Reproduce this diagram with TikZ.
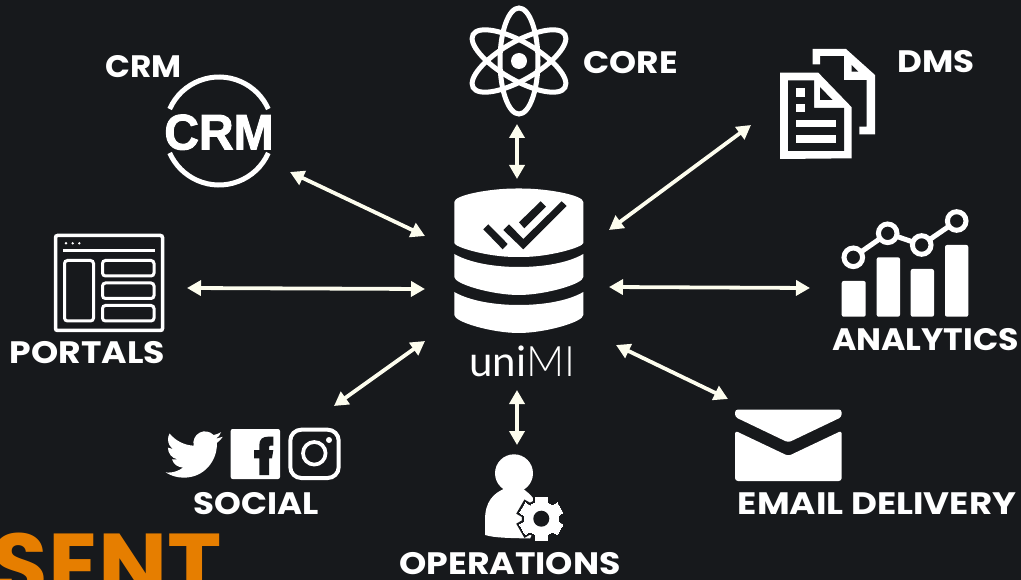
\documentclass[tikz,border=0pt]{standalone}
\usepackage{fontspec}
\setmainfont{Poppins}
\newfontfamily\crmfont{Liberation Sans Bold}[FakeBold=2]
\newfontfamily\unifont{Lato}
\newfontfamily\thinfont{Lato Light}
\usetikzlibrary{arrows.meta}
\definecolor{bgdark}{HTML}{17191C}
\definecolor{cream}{HTML}{FDFDEE}
\definecolor{sentorange}{HTML}{E67E00}
\tikzset{
  hubarrow/.style={draw=cream,line width=3.8pt,{Triangle[length=14pt,width=15pt]}-{Triangle[length=14pt,width=15pt]}},
  iconfill/.style={fill=white,draw=none},
  iconline/.style={draw=white,fill=none},
  cutfill/.style={fill=bgdark,draw=none},
  caption/.style={text=white,inner sep=0pt,anchor=base,font=\bfseries\fontsize{31}{31}\selectfont},
  wide/.style={xscale=#1,transform shape}
}
\begin{document}
\begin{tikzpicture}[x=1pt,y=-1pt]
\useasboundingbox (0,0) rectangle (1021,580);
\fill[bgdark] (0,0) rectangle (1021,580);

\node[caption,text=sentorange,anchor=base east,font=\bfseries\fontsize{92}{92}\selectfont] (sent) at (222,598) {SENT};

\filldraw[iconfill,rounded corners=3pt] (454.3,205) .. controls (454.3,195) and (490,188.5) .. (518.8,188.5) .. controls (547,188.5) and (583.3,195) .. (583.3,205) -- (583.3,240) .. controls (583.3,247) and (550,257) .. (518.8,257) .. controls (487,257) and (454.3,247) .. (454.3,240) -- cycle;
\foreach \y in {254,292} {
  \filldraw[iconfill] (454.3,\y) .. controls (470,\y+9) and (495,\y+13) .. (518.8,\y+13) .. controls (543,\y+13) and (568,\y+9) .. (583.3,\y) -- (583.3,\y+23) .. controls (583.3,\y+30) and (545,\y+41) .. (518.8,\y+41) .. controls (492,\y+41) and (454.3,\y+30) .. (454.3,\y+23) -- cycle;
}
\fill[cutfill] (483.3,229.3) -- (488.3,224.3) -- (507.7,244) -- (502.7,249.3) -- cycle;
\fill[cutfill] (503.3,230) -- (509,224.3) -- (523.3,239) -- (561.7,201.3) -- (566.7,206) -- (523.3,249.3) -- cycle;
\fill[cutfill] (519,222.3) -- (540.7,201.3) -- (546,206.7) -- (524.3,228.3) -- cycle;
\node[text=white,inner sep=0pt,anchor=base,font=\fontsize{42}{42}\selectfont] (unimi) at (522.5,376) {\unifont uni\thinfont MI};

\draw[iconline,line width=5pt] (519,61) ellipse[x radius=19,y radius=53];
\draw[iconline,line width=5pt,rotate around={60:(519,61)}] (519,61) ellipse[x radius=19,y radius=53];
\draw[iconline,line width=5pt,rotate around={120:(519,61)}] (519,61) ellipse[x radius=19,y radius=53];
\fill[iconfill] (519,61) circle[radius=8];
\node[caption,anchor=base,wide=1.11] (core) at (630.5,74) {CORE};

\draw[iconline,line width=5pt] (219,131) ++(24:54) arc[start angle=24,end angle=156,radius=54];
\draw[iconline,line width=5pt] (219,131) ++(204:54) arc[start angle=204,end angle=336,radius=54];
\node[text=white,inner sep=0pt,anchor=base,font=\crmfont\fontsize{50}{50}\selectfont,wide=0.96] (crmlogo) at (219,149.5) {CRM};
\node[caption,wide=1.055] (crm) at (143.5,78) {CRM};

\draw[iconline,line width=3.5pt,rounded corners=2pt] (55.5,330.5) -- (55.5,235.5) -- (162.5,235.5) -- (162.5,330.5) -- cycle;
\foreach \x in {66,72.7,79.3} {
  \fill[iconfill] (\x,243.3) circle[radius=1.3];
}
\draw[iconline,line width=3pt] (63.3,251) -- (155,251);
\draw[iconline,line width=3pt,rounded corners=3pt] (64.5,260.5) rectangle (93.5,321);
\draw[iconline,line width=3pt,rounded corners=3pt] (102.5,260.5) rectangle (154,276);
\draw[iconline,line width=3pt,rounded corners=3pt] (102.5,283) rectangle (154,298.5);
\draw[iconline,line width=3pt,rounded corners=3pt] (102.5,305.5) rectangle (154,321);
\node[caption,wide=1.117] (portals) at (87.5,363) {PORTALS};

\fill[iconfill] (812.7,64.3) -- (812.7,49) -- (846,49) -- (875,75) -- (875,134.3) -- (859.3,134.3) -- (859.3,126.7) -- (866.7,126.7) -- (866.7,80) -- (844,80) -- (844,56) -- (820,56) -- (820,64.3) -- cycle;
\fill[cutfill] (851.7,65) -- (858.3,71.7) -- (851.7,71.7) -- cycle;
\fill[iconfill] (780,72.7) -- (818.3,72.7) -- (851.7,107.3) -- (851.7,158.3) -- (780,159) -- cycle;
\fill[cutfill] (788,80.5) -- (814,80.5) -- (814,108) -- (844,108) -- (844,151) -- (788,151) -- cycle;
\fill[cutfill] (820,87) -- (820,100) -- (832.5,100) -- cycle;
\fill[iconfill] (796,88.3) rectangle (805,96.7);
\fill[iconfill] (796,104) rectangle (805,111.7);
\fill[iconfill] (796,120) rectangle (836,127.3);
\fill[iconfill] (796,135) rectangle (836,143.3);
\node[caption,wide=1.1] (dms) at (936,72.5) {DMS};

\fill[iconfill,rounded corners=2pt] (841.7,281) rectangle (865.7,316.7);
\fill[iconfill,rounded corners=2pt] (876.7,257.3) rectangle (900,316.7);
\fill[iconfill,rounded corners=2pt] (910.7,269) rectangle (934,316.7);
\fill[iconfill,rounded corners=2pt] (945,245) rectangle (968.3,316.7);
\draw[iconline,line width=5pt] (853.3,257.3) -- (887.7,233.3) -- (921.7,245) -- (956.7,221);
\foreach \cx/\cy in {853.3/257.3,887.7/233.3,921.7/245,956.7/221} {
  \filldraw[draw=white,fill=bgdark,line width=5pt] (\cx,\cy) circle[radius=9.3];
}
\node[caption,wide=1.07] (analytics) at (925.5,350.5) {ANALYTICS};

\fill[iconfill,rounded corners=3pt] (735,409.5) -- (841.7,409.5) -- (841.7,417) -- (788.3,442.5) -- (735,417) -- cycle;
\fill[iconfill,rounded corners=3pt] (735,430.7) -- (788.3,456) -- (841.7,430.7) -- (841.7,481) -- (735,481) -- cycle;
\node[caption,wide=1.15] (email) at (877,514.5) {EMAIL DELIVERY};

\begin{scope}[shift={(165.7,426)},x=2.375pt,y=-2.375pt]
\fill[iconfill] (23.953,4.57) -- (21.128,5.345) .. controls (22.2,4.7) and (22.9,3.7) .. (23.291,2.622) .. controls (22.34,3.177) and (21.286,3.581) .. (20.164,3.806) .. controls (18.64,2.19) and (16.21,1.78) .. (14.25,2.83) .. controls (12.29,3.88) and (11.28,6.13) .. (11.78,8.288) .. controls (7.69,8.095) and (4.067,6.13) .. (1.64,3.162) .. controls (1.2,3.9) and (.974,4.75) .. (.974,5.637) .. controls (.974,7.347) and (1.844,8.85) .. (3.162,9.733) -- (.934,9.117) -- (.934,9.177) .. controls (.934,11.5) and (2.6,13.55) .. (4.88,14.004) -- (2.668,14.089) .. controls (3.35,16.1) and (5.15,17.45) .. (7.272,17.506) .. controls (5.6,18.8) and (3.45,19.611) .. (1.17,19.611) .. controls (.78,19.611) and (.391,19.588) .. (0,19.544) .. controls (2.2,20.95) and (4.8,21.753) .. (7.557,21.753) .. controls (16.61,21.753) and (21.555,14.257) .. (21.555,7.768) -- (21.54,7.138) .. controls (22.5,6.45) and (23.35,5.55) .. (24,4.59) -- cycle;
\end{scope}
\fill[iconfill,rounded corners=2pt] (230.7,429) rectangle (280,479);
\fill[cutfill] (259.3,475) -- (259.3,458.3) -- (254,458.3) -- (254,450) -- (259.3,450) -- (259.3,445) .. controls (259.3,439) and (263,436.7) .. (268,436.7) -- (273.3,436.7) -- (273.3,445.5) -- (271,445.5) .. controls (269.5,445.5) and (269,446) .. (269,448) -- (269,450) -- (273.3,450) -- (272,458.3) -- (269,458.3) -- (269,475) -- cycle;
\draw[iconline,line width=4pt,rounded corners=11pt] (290.3,429.7) rectangle (338.7,478);
\draw[iconline,line width=3.7pt] (314.3,453.3) circle[radius=11.3];
\fill[iconfill] (329,440) circle[radius=3];
\node[caption,wide=1.1] (social) at (256,514.5) {SOCIAL};

\fill[iconfill] (514,473.3) circle[radius=19];
\fill[iconfill] (506,488) .. controls (493,493) and (485,502) .. (485,520) -- (485,535) .. controls (495,538) and (510,538) .. (530,538.5) -- (545,510) -- (533,498) .. controls (530,494) and (526,491) .. (522,488) -- cycle;
\foreach \gearcol/\gearw in {bgdark/5pt,white/0pt} {
  \filldraw[draw=\gearcol,fill=\gearcol,line width=\gearw] (541.3,518.7) circle[radius=17];
  \foreach \a in {30,90,150} {
    \filldraw[draw=\gearcol,fill=\gearcol,line width=\gearw,rotate around={\a:(541.3,518.7)}] (519.6,513) rectangle (563,524.4);
  }
}
\fill[cutfill] (541.3,518.7) circle[radius=8];
\node[caption,wide=1.12] (operations) at (510,574.5) {OPERATIONS};

\coordinate (hubcore) at (517,179);
\coordinate (corept) at (517,124);
\coordinate (hubdms) at (609,230);
\coordinate (dmspt) at (751,125);
\coordinate (hubcrm) at (425,236);
\coordinate (crmpt) at (290,172);
\coordinate (hubportals) at (425,289);
\coordinate (portalspt) at (187,288);
\coordinate (hubsocial) at (425,341);
\coordinate (socialpt) at (334,406);
\coordinate (hubops) at (517,390);
\coordinate (opspt) at (517,445);
\coordinate (hubemail) at (616,345);
\coordinate (emailpt) at (728,399);
\coordinate (hubanalytics) at (609,287);
\coordinate (analyticspt) at (810,288);

\draw[hubarrow] (hubcore) -- (corept);
\draw[hubarrow] (hubdms) -- (dmspt);
\draw[hubarrow] (hubcrm) -- (crmpt);
\draw[hubarrow] (hubportals) -- (portalspt);
\draw[hubarrow] (hubsocial) -- (socialpt);
\draw[hubarrow] (hubops) -- (opspt);
\draw[hubarrow] (hubemail) -- (emailpt);
\draw[hubarrow] (hubanalytics) -- (analyticspt);
\end{tikzpicture}
\end{document}
